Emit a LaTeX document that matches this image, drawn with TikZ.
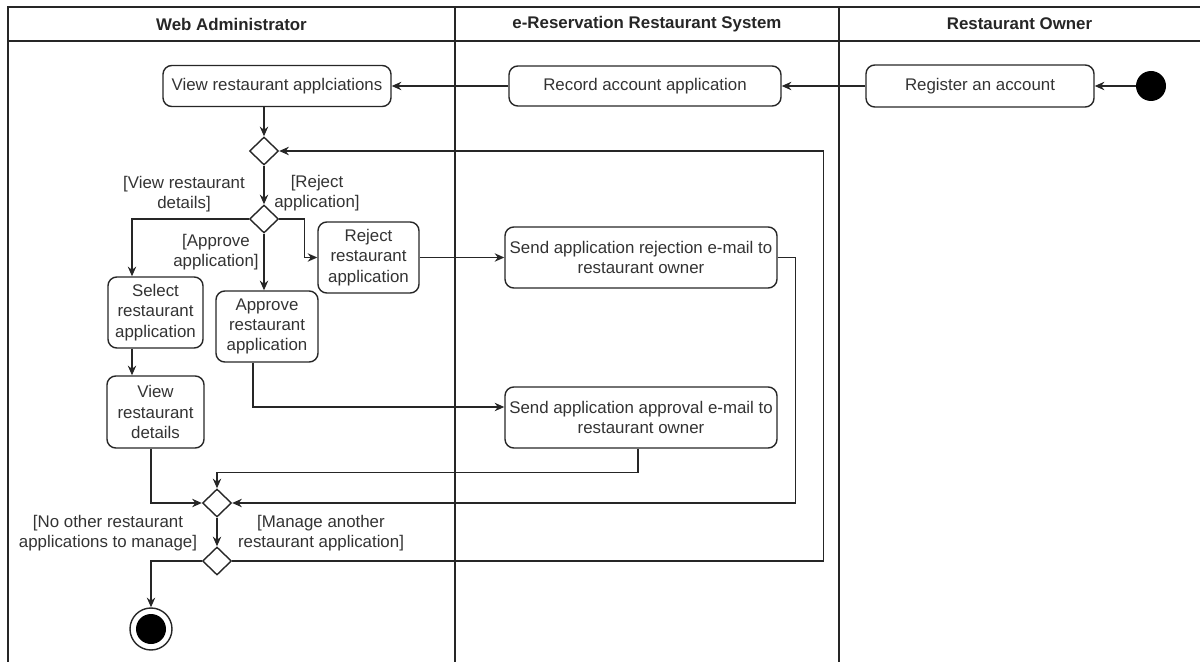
\documentclass[tikz,border=0pt]{standalone}
\usepackage{fontspec}
\setmainfont{Liberation Sans}
\usetikzlibrary{arrows.meta, positioning, shapes.geometric, calc}

% one unit = one pixel of the layout
\def\u{0.02cm}

\tikzset{
  act/.style 2 args={draw=black!85, line width=0.8pt, rounded corners=5pt, align=center,
    minimum width=#1*\u, minimum height=#2*\u, inner sep=1pt, text=black!80},
  dec/.style={draw=black!85, line width=0.8pt, diamond, aspect=1,
    minimum width=29*\u, minimum height=28*\u, inner sep=0pt},
  flow/.style={draw=black!85, line width=0.8pt, -{Stealth[length=5.5pt,width=4.8pt,inset=1.8pt]}},
  guard/.style={align=center, text=black!80},
  lane/.style={draw=black!85, line width=0.8pt},
}

\begin{document}
\begin{tikzpicture}[x=\u, y=-\u, font=\fontsize{9.6}{11.6}\selectfont]

\useasboundingbox (0,0) rectangle (1200,662);

% Draw the swimlanes
\draw[lane] (8,662) -- (8,7) -- (1200,7);
\draw[lane] (8,41) -- (1200,41);
\draw[lane] (455,7) -- (455,662);
\draw[lane] (839,7) -- (839,662);

% Lane titles
\node[text=black!85] (hadmin) at (231.5,24) {\bfseries Web Administrator};
\node[text=black!85] (hsys) at (647,24) {\bfseries e-Reservation Restaurant System};
\node[text=black!85] (hown) at (1019.5,24) {\bfseries Restaurant Owner};

% Start and the first three actions
\node[circle, fill=black, minimum size=30*\u, inner sep=0pt] (start) at (1151,86) {};
\node[act={228}{42}] (reg) at (980,86) {Register an account};
\node[act={272}{40}] (rec) at (645,86) {Record account application};
\node[act={228}{41}] (viewapp) at (277,86) {View restaurant applciations};

\draw[flow] (start) -- (reg);
\draw[flow] (reg) -- (rec);
\draw[flow] (rec) -- (viewapp);

% Decisions
\node[dec] (d1) at (264,151) {};
\node[dec] (d2) at (264,219) {};
\draw[flow] (viewapp.south -| d1) -- (d1);
\draw[flow] (d1) -- (d2);

% Actions on one application
\node[act={95}{71}] (sel) at (155.5,312.5) {Select\\restaurant\\application};
\node[act={97}{72}] (det) at (155.5,412) {View\\restaurant\\details};
\node[act={102}{71}] (appr) at (267,326.5) {Approve\\restaurant\\application};
\node[act={101}{71}] (rej) at (368.5,257.5) {Reject\\restaurant\\application};
\node[act={272}{61}] (rejmail) at (641,257.5) {Send application rejection e-mail to\\restaurant owner};
\node[act={272}{61}] (appmail) at (641,417.5) {Send application approval e-mail to\\restaurant owner};

% Guards
\node[guard] (gdet) at (184,194) {[View restaurant\\details]};
\node[guard] (grej) at (317,193) {[Reject\\application]};
\node[guard] (gappr) at (216,252) {[Approve\\application]};

\draw[flow] (d2.west) -| ($(sel.north)+(-23.5,0)$);
\draw[flow] (d2.south) -- (d2.south |- appr.north);
\draw[flow] (d2.east) -- ++(25,0) |- (rej.west);
\draw[flow] (rej) -- (rejmail);
\draw[flow] ($(sel.south)+(-23.5,0)$) -- ($(det.north)+(-23.5,0)$);
\draw[flow] ($(appr.south)+(-14,0)$) |- ($(appmail.west)+(0,-10.5)$);

% Merge and loop back
\node[dec] (m) at (217,503) {};
\node[dec] (d3) at (217,561) {};
\node[circle, draw=black!85, line width=0.8pt, minimum size=42*\u, inner sep=0pt] (fin) at (151,629) {};
\fill[black] (fin.center) circle (15);

\node[guard] (gend) at (108,533) {[No other restaurant\\applications to manage]};
\node[guard] (gmore) at (321,533) {[Manage another\\restaurant application]};

\draw[flow] ($(det.south)+(-4.5,0)$) |- (m.west);
\draw[flow] ($(appmail.south)+(-3,0)$) -- ++(0,24) -| (m.north);
\draw[flow] (rejmail.east) -- ++(18,0) |- (m.east);
\draw[flow] (m) -- (d3);
\draw[flow] (d3.east) -- ++(591.5,0) |- (d1.east);
\draw[flow] (d3.west) -| (fin.north);

\end{tikzpicture}
\end{document}
